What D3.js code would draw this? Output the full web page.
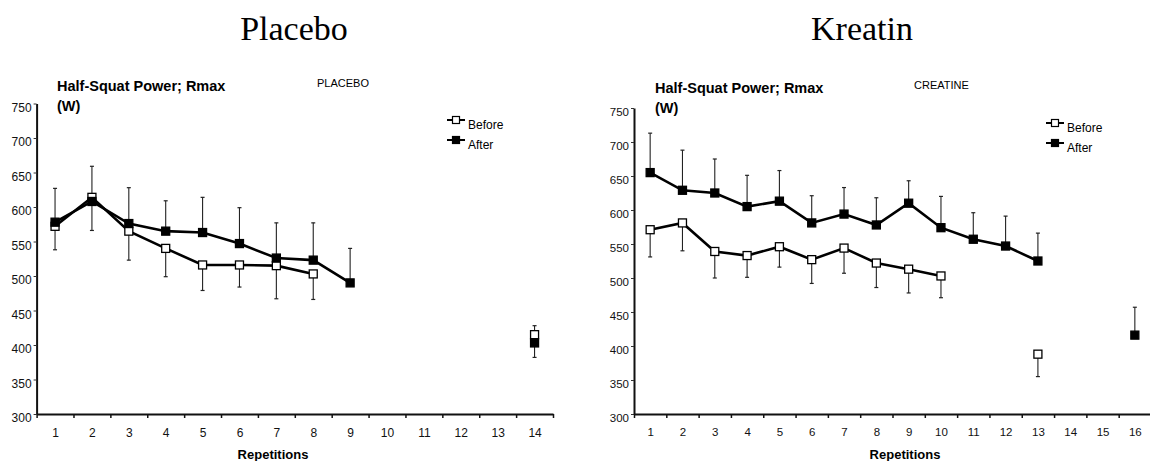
<!DOCTYPE html>
<html>
<head>
<meta charset="utf-8">
<script src="https://cdn.jsdelivr.net/npm/d3@7"></script>
<style>
  body { margin: 0; background: #fff; }
  svg { display: block; font-family: "Liberation Sans", Arial, sans-serif; }
</style>
</head>
<body>
<div id="chart"></div>
<script>
// Placebo panel data
var placeboReps = [1, 2, 3, 4, 5, 6, 7, 8, 9, 10, 11, 12, 13, 14];
var placeboBeforeX = [1, 2, 3, 4, 5, 6, 7, 8, 14];
var placeboBefore = [572, 614, 565, 540, 516, 516, 515, 503, 415];
var placeboBeforeErr = [-34, -48, -42, -41, -37, -32, -48, -37, 13];
var placeboAfterX = [1, 2, 3, 4, 5, 6, 7, 8, 9, 14];
var placeboAfter = [578, 608, 576, 565, 563, 547, 526, 523, 490, 403];
var placeboAfterErr = [49, 51, 52, 44, 51, 52, 51, 54, 50, -21];

// Creatine panel data
var creatineReps = [1, 2, 3, 4, 5, 6, 7, 8, 9, 10, 11, 12, 13, 14, 15, 16];
var creatineBeforeX = [1, 2, 3, 4, 5, 6, 7, 8, 9, 10, 13];
var creatineBefore = [571, 581, 539, 533, 546, 527, 544, 522, 513, 503, 388];
var creatineBeforeErr = [-40, -41, -39, -32, -30, -35, -37, -36, -35, -32, -33];
var creatineAfterX = [1, 2, 3, 4, 5, 6, 7, 8, 9, 10, 11, 12, 13, 16];
var creatineAfter = [655, 629, 625, 605, 613, 581, 594, 578, 610, 574, 557, 547, 525, 416];
var creatineAfterErr = [58, 59, 50, 46, 45, 40, 39, 40, 33, 46, 39, 44, 41, 41];

var yTicks = [300, 350, 400, 450, 500, 550, 600, 650, 700, 750];
var seriesNames = ["Before", "After"];

var svg = d3.select("#chart").append("svg")
    .attr("width", 1150)
    .attr("height", 461);

function zip(xs, vs, es) {
    return xs.map(function (x, i) { return { x: x, v: vs[i], e: es[i] }; });
}

// split into runs of consecutive repetitions so the isolated point has no line
function segments(pts) {
    var segs = [], cur = [];
    pts.forEach(function (p, i) {
        if (i > 0 && p.x - pts[i - 1].x !== 1) { segs.push(cur); cur = []; }
        cur.push(p);
    });
    segs.push(cur);
    return segs.filter(function (s) { return s.length > 1; });
}

function drawPanel(cfg) {
    var x = d3.scaleLinear()
        .domain([0.5, cfg.reps.length + 0.5])
        .range([cfg.left, cfg.right]);
    var y = d3.scaleLinear()
        .domain([300, 750])
        .range([cfg.bottom, cfg.top]);

    var g = svg.append("g");

    // big title above panel
    svg.append("text")
        .attr("x", cfg.titleX)
        .attr("y", 40)
        .attr("text-anchor", "middle")
        .style("font-family", "'Liberation Serif', 'Times New Roman', serif")
        .style("font-size", "34px")
        .text(cfg.title);

    // y axis
    var yAxis = g.append("g")
        .attr("transform", "translate(" + cfg.left + ",0)")
        .call(d3.axisLeft(y).tickValues(yTicks).tickSize(3).tickSizeOuter(0).tickPadding(2));
    yAxis.select(".domain").attr("stroke", "#111").attr("stroke-width", 2);
    yAxis.selectAll(".tick line").attr("stroke", "#333");
    yAxis.selectAll(".tick text")
        .attr("dy", "0.65em")
        .attr("fill", "#111")
        .style("font-size", cfg.tickFont + "px");

    // x axis: ticks at boundaries, labels at centres
    var bounds = d3.range(0.5, cfg.reps.length + 1, 1);
    var xAxis = g.append("g")
        .attr("transform", "translate(0," + cfg.bottom + ")")
        .call(d3.axisBottom(x).tickValues(bounds).tickSize(4).tickSizeOuter(0).tickFormat(""));
    xAxis.select(".domain").attr("stroke", "#111").attr("stroke-width", 2);
    xAxis.selectAll(".tick line").attr("stroke", "#111").attr("stroke-width", 1.5);

    var xLab = g.append("g")
        .attr("transform", "translate(0," + cfg.bottom + ")")
        .call(d3.axisBottom(x).tickValues(cfg.reps).tickSize(0).tickPadding(14).tickFormat(d3.format("d")));
    xLab.select(".domain").remove();
    xLab.selectAll("text").attr("fill", "#111").style("font-size", cfg.tickFont + "px");

    // axis titles
    g.append("text")
        .attr("x", cfg.repX)
        .attr("y", 459)
        .attr("text-anchor", "middle")
        .style("font-weight", "bold")
        .style("font-size", "13px")
        .text("Repetitions");

    g.append("text")
        .attr("x", cfg.subX)
        .attr("y", cfg.subY)
        .style("font-weight", "bold")
        .style("font-size", "14.5px")
        .text("Half-Squat Power; Rmax");
    g.append("text")
        .attr("x", cfg.subX)
        .attr("y", cfg.subY + 20)
        .style("font-weight", "bold")
        .style("font-size", "14.5px")
        .text("(W)");

    g.append("text")
        .attr("x", cfg.tagX)
        .attr("y", cfg.tagY)
        .style("font-size", "11px")
        .text(cfg.tag);

    var line = d3.line()
        .x(function (d) { return x(d.x); })
        .y(function (d) { return y(d.v); });

    cfg.series.forEach(function (s) {
        var pts = zip(s.x, s.v, s.e);

        // error bars (one-sided)
        var eb = g.append("g");
        eb.selectAll("line.bar")
            .data(pts).enter().append("line")
            .attr("x1", function (d) { return x(d.x); })
            .attr("x2", function (d) { return x(d.x); })
            .attr("y1", function (d) { return y(d.v); })
            .attr("y2", function (d) { return y(d.v + d.e); })
            .attr("stroke", "#222")
            .attr("stroke-width", 1.1);
        eb.selectAll("line.cap")
            .data(pts).enter().append("line")
            .attr("x1", function (d) { return x(d.x) - 2; })
            .attr("x2", function (d) { return x(d.x) + 2; })
            .attr("y1", function (d) { return y(d.v + d.e); })
            .attr("y2", function (d) { return y(d.v + d.e); })
            .attr("stroke", "#222")
            .attr("stroke-width", 1.2);
        s.pts = pts;
    });

    cfg.series.forEach(function (s) {
        g.selectAll(null)
            .data(segments(s.pts)).enter().append("path")
            .attr("d", line)
            .attr("fill", "none")
            .attr("stroke", "#000")
            .attr("stroke-width", 2.6);
    });

    cfg.series.forEach(function (s) {
        g.selectAll(null)
            .data(s.pts).enter().append("rect")
            .attr("x", function (d) { return x(d.x) - 4; })
            .attr("y", function (d) { return y(d.v) - 4; })
            .attr("width", 8)
            .attr("height", 8)
            .attr("fill", s.fill)
            .attr("stroke", "#000")
            .attr("stroke-width", 1.3);
    });

    // legend
    var legend = g.selectAll(".legend")
        .data(seriesNames).enter().append("g")
        .attr("transform", function (d, i) {
            return "translate(" + cfg.legX + "," + (cfg.legY + i * 20) + ")";
        });
    legend.append("line")
        .attr("x1", 0).attr("x2", 18)
        .attr("stroke", "#000").attr("stroke-width", 2);
    legend.append("rect")
        .attr("x", 5.5).attr("y", -3.5)
        .attr("width", 7).attr("height", 7)
        .attr("fill", function (d, i) { return cfg.series[i].fill; })
        .attr("stroke", "#000").attr("stroke-width", 1.2);
    legend.append("text")
        .attr("x", 21).attr("y", 9)
        .style("font-size", "12px")
        .text(function (d) { return d; });
}

drawPanel({
    title: "Placebo", titleX: 294,
    tag: "PLACEBO", tagX: 317, tagY: 87,
    reps: placeboReps,
    left: 36.6, right: 553, top: 103.5, bottom: 414,
    tickFont: 12,
    subX: 57, subY: 91,
    repX: 273,
    legX: 447, legY: 120,
    series: [
        { x: placeboBeforeX, v: placeboBefore, e: placeboBeforeErr, fill: "#fff" },
        { x: placeboAfterX, v: placeboAfter, e: placeboAfterErr, fill: "#000" }
    ]
});

drawPanel({
    title: "Kreatin", titleX: 862,
    tag: "CREATINE", tagX: 914, tagY: 89,
    reps: creatineReps,
    left: 634, right: 1151, top: 108, bottom: 414,
    tickFont: 11.5,
    subX: 655, subY: 93,
    repX: 905,
    legX: 1046, legY: 123,
    series: [
        { x: creatineBeforeX, v: creatineBefore, e: creatineBeforeErr, fill: "#fff" },
        { x: creatineAfterX, v: creatineAfter, e: creatineAfterErr, fill: "#000" }
    ]
});
</script>
</body>
</html>
